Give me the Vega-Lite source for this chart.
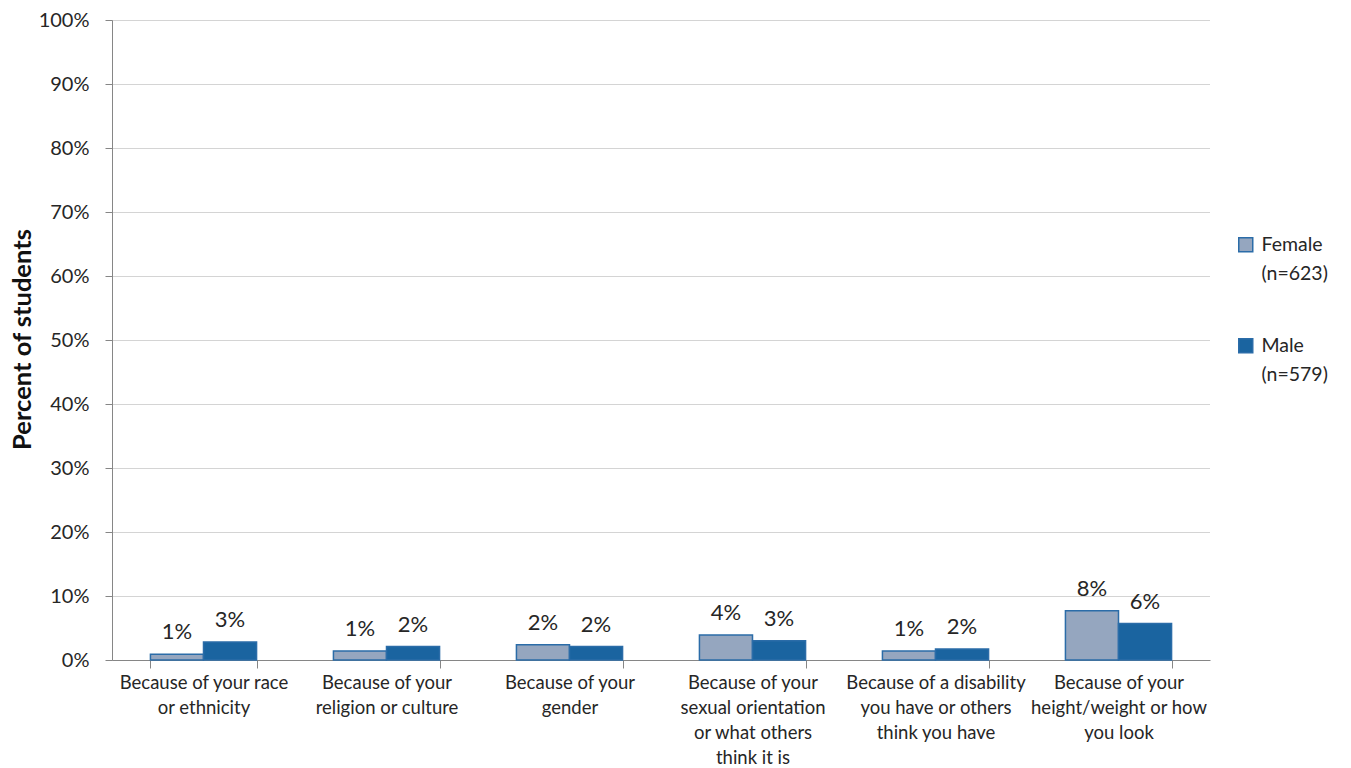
{
  "$schema": "https://vega.github.io/schema/vega-lite/v6.json",
  "autosize": {"type": "none"},
  "padding": {"left": 112, "top": 20, "right": 141, "bottom": 108},
  "width": 1098,
  "height": 640,
  "background": "white",
  "config": {
    "font": "Lato",
    "view": {"stroke": null},
    "style": {"guide-label": {"lineHeight": 29}}
  },
  "data": {
    "values": [
      {"category": "Because of your race|or ethnicity", "gender": "Female|(n=623)", "value": 0.009},
      {"category": "Because of your race|or ethnicity", "gender": "Male|(n=579)", "value": 0.028},
      {"category": "Because of your|religion or culture", "gender": "Female|(n=623)", "value": 0.014},
      {"category": "Because of your|religion or culture", "gender": "Male|(n=579)", "value": 0.021},
      {"category": "Because of your|gender", "gender": "Female|(n=623)", "value": 0.024},
      {"category": "Because of your|gender", "gender": "Male|(n=579)", "value": 0.021},
      {"category": "Because of your|sexual orientation|or what others|think it is", "gender": "Female|(n=623)", "value": 0.039},
      {"category": "Because of your|sexual orientation|or what others|think it is", "gender": "Male|(n=579)", "value": 0.030},
      {"category": "Because of a disability|you have or others|think you have", "gender": "Female|(n=623)", "value": 0.014},
      {"category": "Because of a disability|you have or others|think you have", "gender": "Male|(n=579)", "value": 0.017},
      {"category": "Because of your|height/weight or how|you look", "gender": "Female|(n=623)", "value": 0.077},
      {"category": "Because of your|height/weight or how|you look", "gender": "Male|(n=579)", "value": 0.057}
    ]
  },
  "encoding": {
    "x": {
      "field": "category",
      "type": "nominal",
      "sort": null,
      "scale": {"paddingInner": 0.42, "paddingOuter": 0.21},
      "axis": {
        "title": null,
        "labelAngle": 0,
        "labelExpr": "split(datum.label, '|')",
        "labelFontSize": 18.5,
        "labelLineHeight": 25,
        "labelColor": "#262626",
        "labelBaseline": "top",
        "labelPadding": 5,
        "tickBand": "extent",
        "tickSize": 8,
        "tickColor": "#868686",
        "domainColor": "#868686",
        "grid": false
      }
    },
    "xOffset": {"field": "gender", "type": "nominal", "sort": null},
    "y": {
      "field": "value",
      "type": "quantitative",
      "scale": {"domain": [0, 1]},
      "axis": {
        "title": "Percent of students",
        "titleFontSize": 25.5,
        "titleFontWeight": "bold",
        "titleColor": "#111111",
        "titleX": -90,
        "titleY": 319,
        "titleAngle": -90,
        "titleBaseline": "middle",
        "titleAlign": "center",
        "values": [0, 0.1, 0.2, 0.3, 0.4, 0.5, 0.6, 0.7, 0.8, 0.9, 1],
        "format": ".0%",
        "labelFontSize": 20,
        "labelColor": "#262626",
        "labelPadding": 16,
        "tickSize": 7,
        "tickColor": "#868686",
        "domainColor": "#868686",
        "grid": true,
        "gridColor": "#a8a8a8",
        "gridDash": [1, 1],
        "gridWidth": 1
      }
    }
  },
  "layer": [
    {
      "mark": {"type": "bar", "stroke": "#2B6CA8", "strokeWidth": 1.5},
      "encoding": {
        "color": {
          "field": "gender",
          "type": "nominal",
          "sort": null,
          "scale": {"range": ["#95A6BF", "#1A64A0"]},
          "legend": {
            "title": null,
            "orient": "none",
            "legendX": 1124,
            "legendY": 215,
            "labelExpr": "split(datum.label, '|')",
            "labelFontSize": 19.5,
            "labelColor": "#262626",
            "labelBaseline": "middle",
            "symbolType": "square",
            "symbolSize": 196,
            "symbolStrokeWidth": 1.5,
            "rowPadding": 51,
            "labelOffset": 6,
            "padding": 0
          }
        }
      }
    },
    {
      "mark": {"type": "text", "baseline": "bottom", "dy": -10, "fontSize": 22, "color": "#262626"},
      "encoding": {
        "text": {"field": "value", "type": "quantitative", "format": ".0%"}
      }
    }
  ]
}
